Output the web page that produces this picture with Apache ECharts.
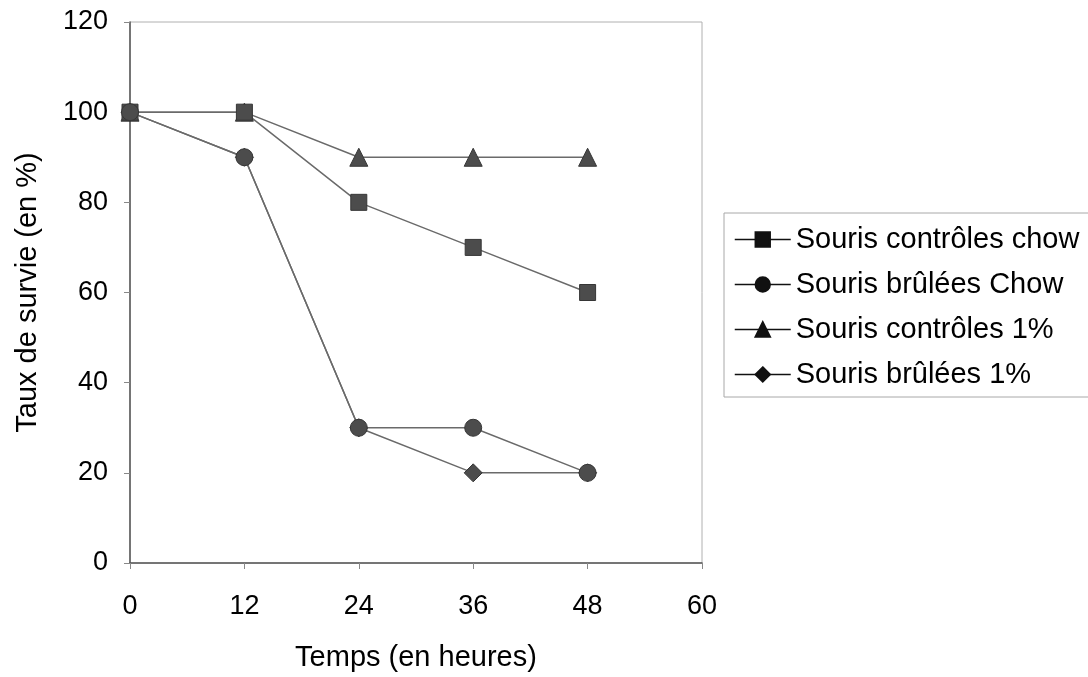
<!DOCTYPE html>
<html>
<head>
<meta charset="utf-8">
<script src="https://cdn.jsdelivr.net/npm/echarts@6/dist/echarts.min.js"></script>
<style>
  html, body { margin: 0; padding: 0; background: #fff; }
  #chart { width: 1088px; height: 677px; }
</style>
</head>
<body>
<div id="chart"></div>
<script>
// Survival over time (hours) for each group of mice
const hours = [0, 12, 24, 36, 48];
const controlesChow = [100, 100, 80, 70, 60];
const bruleesChow = [100, 90, 30, 30, 20];
const controles1 = [100, 100, 90, 90, 90];
const brulees1 = [100, 90, 30, 20, 20];
const seriesNames = ['Souris contrôles chow', 'Souris brûlées Chow', 'Souris contrôles 1%', 'Souris brûlées 1%'];

const font = 'Liberation Sans, Arial, sans-serif';
const pairs = vals => hours.map((h, i) => [h, vals[i]]);

function makeSeries(name, vals, symbol, size, z) {
  return {
    name: name,
    type: 'line',
    data: pairs(vals),
    symbol: symbol,
    symbolSize: size,
    z: z,
    lineStyle: { color: '#6a6a6a', width: 1.5 },
    itemStyle: { color: '#4c4c4c', borderColor: '#363636', borderWidth: 1 },
    emphasis: { disabled: true }
  };
}

const chart = echarts.init(document.getElementById('chart'));
chart.setOption({
  animation: false,
  backgroundColor: '#fff',
  grid: {
    left: 130, right: 386, top: 22, bottom: 111,
    show: true, borderColor: '#b0b0b0', borderWidth: 1
  },
  legend: {
    data: seriesNames,
    orient: 'vertical',
    left: 724, top: 213,
    padding: [12, 60, 8, 10],
    itemGap: 16,
    itemWidth: 56, itemHeight: 18,
    borderColor: '#a8a8a8', borderWidth: 1,
    itemStyle: { color: '#111', borderColor: '#111' },
    lineStyle: { color: '#111', width: 1.5 },
    textStyle: { fontFamily: font, fontSize: 29, color: '#000', lineHeight: 29 }
  },
  xAxis: {
    type: 'value',
    min: 0, max: 60, interval: 12,
    name: 'Temps (en heures)',
    nameLocation: 'middle',
    nameGap: 80,
    nameTextStyle: { fontFamily: font, fontSize: 29, color: '#000' },
    axisLine: { show: true, lineStyle: { color: '#555', width: 1.5 } },
    axisTick: { show: true, length: 6, lineStyle: { color: '#888' } },
    axisLabel: { fontFamily: font, fontSize: 27, color: '#000', margin: 30 },
    splitLine: { show: false }
  },
  yAxis: {
    type: 'value',
    min: 0, max: 120, interval: 20,
    name: 'Taux de survie (en %)',
    nameLocation: 'middle',
    nameGap: 88,
    nameTextStyle: { fontFamily: font, fontSize: 29, color: '#000' },
    axisLine: { show: true, lineStyle: { color: '#555', width: 1.5 } },
    axisTick: { show: true, length: 6, lineStyle: { color: '#888' } },
    axisLabel: { fontFamily: font, fontSize: 27, color: '#000', margin: 22 },
    splitLine: { show: false }
  },
  series: [
    makeSeries(seriesNames[0], controlesChow, 'rect', 16, 4),
    makeSeries(seriesNames[1], bruleesChow, 'circle', 17, 4),
    makeSeries(seriesNames[2], controles1, 'triangle', 18, 3),
    makeSeries(seriesNames[3], brulees1, 'diamond', 18, 3)
  ]
});
</script>
</body>
</html>
